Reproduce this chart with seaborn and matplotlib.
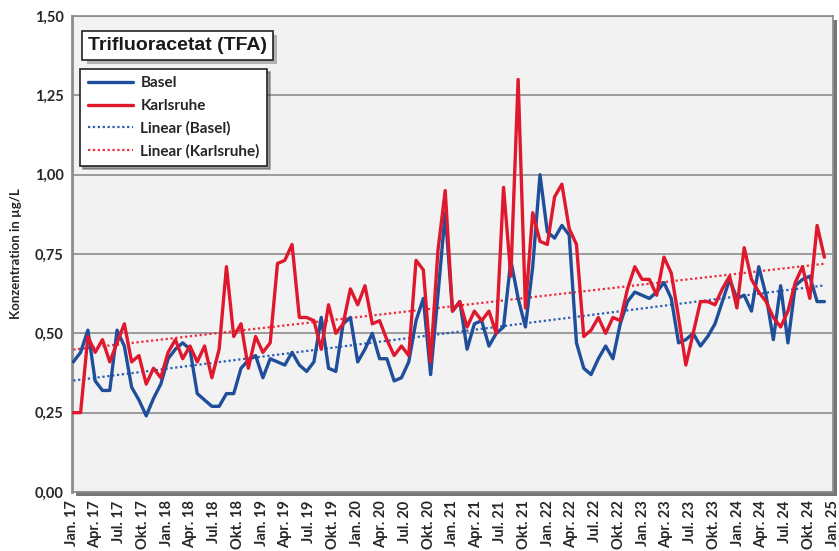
import numpy as np
import pandas as pd
import matplotlib
matplotlib.use("Agg")
import matplotlib.pyplot as plt
import matplotlib.patheffects as pe
from matplotlib.lines import Line2D
import seaborn as sns

# ================== Daten ==================
# 4-woechentliche Mischproben, erste Probe Anfang Jan. 2017
START_DATE = "2017-01-06"
STEP = "28D"

basel = [
    0.41, 0.44, 0.51, 0.35, 0.32, 0.32, 0.51, 0.46, 0.33, 0.29,
    0.24, 0.295, 0.34, 0.42, 0.45, 0.47, 0.45, 0.31, 0.29, 0.27,
    0.27, 0.31, 0.31, 0.39, 0.415, 0.43, 0.36, 0.42, 0.41, 0.40,
    0.44, 0.40, 0.38, 0.41, 0.55, 0.39, 0.38, 0.53, 0.55, 0.41,
    0.45, 0.50, 0.42, 0.42, 0.35, 0.36, 0.41, 0.54, 0.61, 0.37,
    0.62, 0.88, 0.57, 0.60, 0.45, 0.53, 0.54, 0.46, 0.50, 0.52,
    0.73, 0.61, 0.52, 0.71, 1.00, 0.82, 0.80, 0.84, 0.81, 0.47,
    0.39, 0.37, 0.42, 0.46, 0.42, 0.53, 0.60, 0.63, 0.62, 0.61,
    0.63, 0.66, 0.61, 0.47, 0.48, 0.50, 0.46, 0.49, 0.53, 0.60,
    0.67, 0.61, 0.62, 0.57, 0.71, 0.62, 0.48, 0.65, 0.47, 0.65,
    0.67, 0.68, 0.60, 0.60,
]

karlsruhe = [
    0.25, 0.25, 0.49, 0.44, 0.48, 0.41, 0.47, 0.53, 0.41, 0.43,
    0.34, 0.39, 0.36, 0.44, 0.48, 0.42, 0.46, 0.41, 0.46, 0.36,
    0.45, 0.71, 0.49, 0.53, 0.39, 0.49, 0.44, 0.47, 0.72, 0.73,
    0.78, 0.55, 0.55, 0.54, 0.45, 0.59, 0.50, 0.53, 0.64, 0.59,
    0.65, 0.53, 0.54, 0.48, 0.43, 0.46, 0.43, 0.73, 0.70, 0.41,
    0.76, 0.95, 0.57, 0.60, 0.52, 0.57, 0.54, 0.57, 0.50, 0.96,
    0.68, 1.30, 0.58, 0.88, 0.79, 0.78, 0.93, 0.97, 0.83, 0.78,
    0.49, 0.51, 0.55, 0.50, 0.55, 0.54, 0.64, 0.71, 0.67, 0.67,
    0.62, 0.74, 0.69, 0.55, 0.40, 0.50, 0.60, 0.60, 0.59, 0.64,
    0.68, 0.58, 0.77, 0.67, 0.63, 0.60, 0.55, 0.52, 0.57, 0.66,
    0.71, 0.61, 0.84, 0.74,
]

series_names = ["Basel", "Karlsruhe"]
trend_names = ["Linear (Basel)", "Linear (Karlsruhe)"]
quarter_names = ["Jan.", "Apr.", "Jul.", "Okt."]
y_ticks = [0.0, 0.25, 0.5, 0.75, 1.0, 1.25, 1.5]

TITLE = "Trifluoracetat (TFA)"
YLABEL = "Konzentration in µg/L"

COLORS = {"Basel": "#1F4E9B", "Karlsruhe": "#E0182D"}
TREND_COLORS = {"Linear (Basel)": "#2A5BB5", "Linear (Karlsruhe)": "#EC2A3A"}
# ===========================================

dates = pd.date_range(START_DATE, periods=len(basel), freq=STEP)
df = pd.DataFrame({"Datum": dates, "Basel": basel, "Karlsruhe": karlsruhe})
long = df.melt(id_vars="Datum", var_name="Messstelle", value_name="Wert")

# lineare Trends (wie Excel-Trendlinie)
idx = np.arange(len(df))
trend_rows = []
for name, tname in zip(series_names, trend_names):
    a, b = np.polyfit(idx, df[name].values, 1)
    trend_rows.append(pd.DataFrame({"Datum": dates, "Messstelle": tname, "Wert": a * idx + b}))
trend = pd.concat(trend_rows)

sns.set_theme(style="white")
plt.rcParams["font.family"] = ["Lato", "DejaVu Sans"]
plt.rcParams["font.weight"] = "bold"

fig = plt.figure(figsize=(8.39, 5.51), dpi=100)
ax = fig.add_axes([72 / 839, 1 - 492 / 551, 761 / 839, 476 / 551])
ax.set_facecolor("#F2F2F2")
ax.patch.set_path_effects([pe.withSimplePatchShadow(offset=(3, -3), shadow_rgbFace="#555555", alpha=0.8)])

sns.lineplot(data=trend, x="Datum", y="Wert", hue="Messstelle", palette=TREND_COLORS,
             linewidth=1.6, ax=ax, legend=False, zorder=3)
for ln in ax.get_lines():
    ln.set_linestyle((0, (1, 1.2)))
sns.lineplot(data=long, x="Datum", y="Wert", hue="Messstelle", palette=COLORS,
             linewidth=2.4, ax=ax, legend=False, zorder=4)

# Achsen
ax.set_ylim(0, 1.5)
ax.set_yticks(y_ticks)
ax.set_yticklabels([f"{v:.2f}".replace(".", ",") for v in y_ticks], fontsize=10.5, fontweight="bold")
ax.yaxis.grid(True, color="#8C8C8C", linewidth=1.2)
ax.set_axisbelow(True)

qdates = pd.date_range("2017-01-01", "2025-01-01", freq="QS")
qlabels = [f"{quarter_names[(d.month - 1) // 3]} {d.year % 100:02d}" for d in qdates]
ax.set_xlim(qdates[0], qdates[-1])
ax.set_xticks(qdates)
ax.set_xticklabels(qlabels, rotation=90, fontsize=10.5, fontweight="bold", va="top", ha="center")
ax.tick_params(axis="both", direction="out", length=4, width=1, color="#8C8C8C", pad=2)
ax.set_xlabel("")
ax.set_ylabel(YLABEL, fontsize=9.5, fontweight="bold")
ax.yaxis.set_label_coords(-0.066, 0.5)

for side in ["left", "bottom", "top", "right"]:
    ax.spines[side].set_color("#8C8C8C")
    ax.spines[side].set_linewidth(1.2)
ax.spines["left"].set_linewidth(2)

# Titel-Kasten
t = ax.text(0.139, 0.938, TITLE, transform=ax.transAxes, fontsize=14, fontweight="bold",
            family=["Liberation Sans", "DejaVu Sans"],
            ha="center", va="center", color="#1A1A1A", zorder=6,
            bbox=dict(boxstyle="square,pad=0.3", facecolor="white", edgecolor="#222222", linewidth=1.2))
t.get_bbox_patch().set_path_effects([pe.withSimplePatchShadow(offset=(3, -3), shadow_rgbFace="#888888", alpha=0.6)])

# Legende
handles = [
    Line2D([], [], color=COLORS["Basel"], lw=2.4),
    Line2D([], [], color=COLORS["Karlsruhe"], lw=2.4),
    Line2D([], [], color=TREND_COLORS["Linear (Basel)"], lw=1.6, ls=(0, (1, 1.2))),
    Line2D([], [], color=TREND_COLORS["Linear (Karlsruhe)"], lw=1.6, ls=(0, (1, 1.2))),
]
leg = ax.legend(handles, series_names + trend_names, loc="upper left", bbox_to_anchor=(0.0105, 0.889),
                borderaxespad=0, frameon=True, fancybox=False, shadow=True, handlelength=3.0,
                handletextpad=0.45, labelspacing=0.55, borderpad=0.5,
                prop={"size": 11, "weight": "bold"})
leg.get_frame().set_edgecolor("#222222")
leg.get_frame().set_linewidth(1.2)
leg.get_frame().set_facecolor("white")
leg.set_zorder(6)

fig.savefig("out.png", dpi=100)
